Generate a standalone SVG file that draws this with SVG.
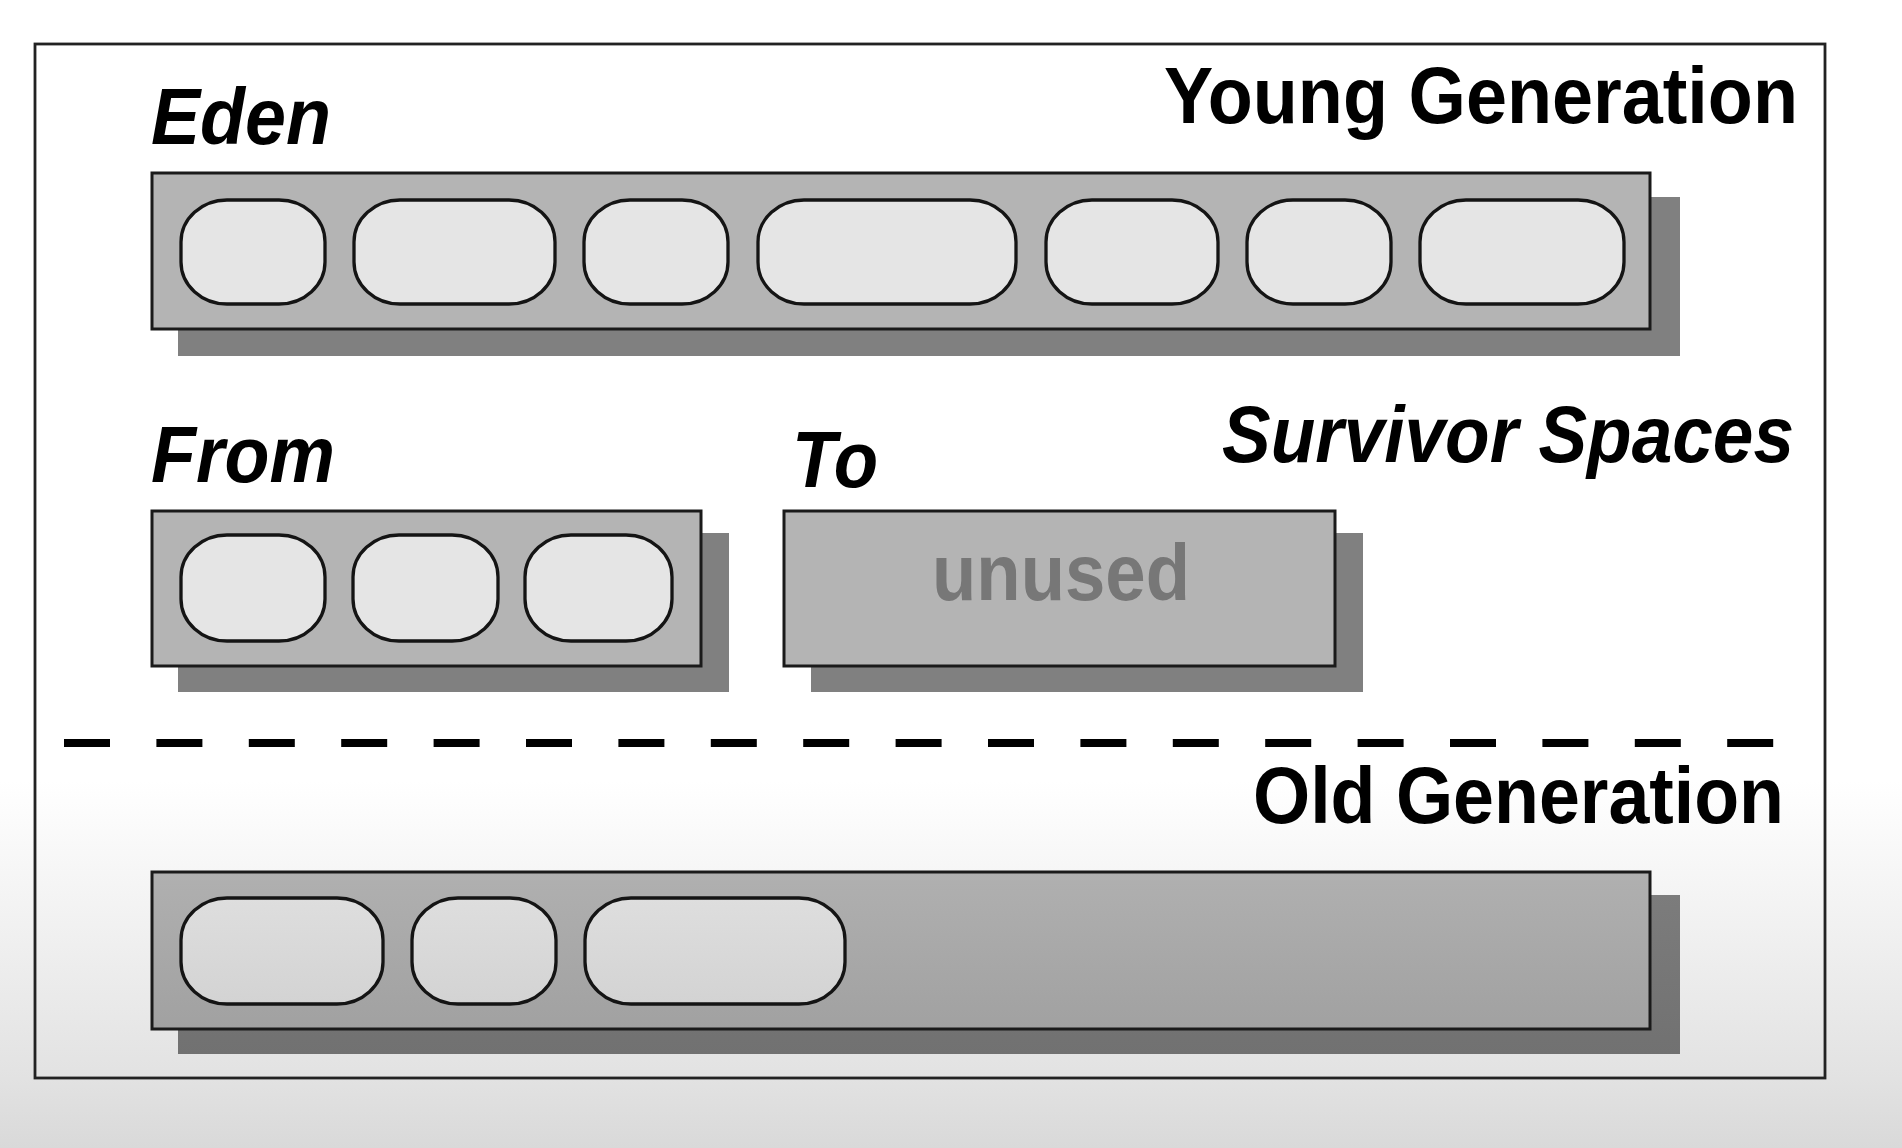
<svg xmlns="http://www.w3.org/2000/svg" width="1902" height="1148" viewBox="0 0 1902 1148">
<defs>
<linearGradient id="bg" x1="0" y1="0" x2="0" y2="1148" gradientUnits="userSpaceOnUse">
<stop offset="0" stop-color="#ffffff"/>
<stop offset="0.68" stop-color="#ffffff"/>
<stop offset="0.94" stop-color="#e2e2e2"/>
<stop offset="1" stop-color="#d9d9d9"/>
</linearGradient>
<linearGradient id="oldFill" x1="0" y1="0" x2="0" y2="1">
<stop offset="0" stop-color="#b0b0b0"/>
<stop offset="1" stop-color="#a1a1a1"/>
</linearGradient>
<linearGradient id="oldShadow" x1="0" y1="0" x2="0" y2="1">
<stop offset="0" stop-color="#7c7c7c"/>
<stop offset="1" stop-color="#717171"/>
</linearGradient>
<linearGradient id="oldCell" x1="0" y1="0" x2="0" y2="1">
<stop offset="0" stop-color="#dedede"/>
<stop offset="1" stop-color="#d3d3d3"/>
</linearGradient>
</defs>
<style>
.frame{fill:none;stroke:#222;stroke-width:2.8}
.shadow{fill:#808080}
.box{fill:#b4b4b4;stroke:#1a1a1a;stroke-width:3}
.cell{fill:#e5e5e5;stroke:#141414;stroke-width:3.3}
.lbl{font-family:"Liberation Sans",Arial,sans-serif;font-weight:bold;font-size:79px;fill:#000}
.it{font-style:italic}
.unused{font-family:"Liberation Sans",Arial,sans-serif;font-weight:bold;font-size:79px;fill:#777}
.dash{stroke:#000;stroke-width:8;stroke-dasharray:46 46.4;fill:none}
</style>
<rect x="0" y="0" width="1902" height="1148" fill="url(#bg)"/>
<g id="frame">
<rect class="frame" x="35" y="44" width="1790" height="1034"/>
</g>
<g id="labels">
<text class="lbl" x="1164" y="123" textLength="634" lengthAdjust="spacingAndGlyphs">Young Generation</text>
<text class="lbl it" x="151" y="144" textLength="180" lengthAdjust="spacingAndGlyphs">Eden</text>
<text class="lbl it" x="151" y="482" textLength="184" lengthAdjust="spacingAndGlyphs">From</text>
<text class="lbl it" x="792" y="487" textLength="86" lengthAdjust="spacingAndGlyphs">To</text>
<text class="lbl it" x="1222" y="462" textLength="572" lengthAdjust="spacingAndGlyphs">Survivor Spaces</text>
<text class="lbl" x="1253" y="823" textLength="531" lengthAdjust="spacingAndGlyphs">Old Generation</text>
</g>
<g id="eden">
<rect class="shadow" x="178" y="197" width="1502" height="159"/>
<rect class="box" x="152" y="173" width="1498" height="156"/>
<rect class="cell" x="181" y="200" width="144" height="104" rx="46" ry="42"/>
<rect class="cell" x="354" y="200" width="201" height="104" rx="46" ry="42"/>
<rect class="cell" x="584" y="200" width="144" height="104" rx="46" ry="42"/>
<rect class="cell" x="758" y="200" width="258" height="104" rx="46" ry="42"/>
<rect class="cell" x="1046" y="200" width="172" height="104" rx="46" ry="42"/>
<rect class="cell" x="1247" y="200" width="144" height="104" rx="46" ry="42"/>
<rect class="cell" x="1420" y="200" width="204" height="104" rx="46" ry="42"/>
</g>
<g id="from">
<rect class="shadow" x="178" y="533" width="551" height="159"/>
<rect class="box" x="152" y="511" width="549" height="155"/>
<rect class="cell" x="181" y="535" width="144" height="106" rx="46" ry="42"/>
<rect class="cell" x="353" y="535" width="145" height="106" rx="46" ry="42"/>
<rect class="cell" x="525" y="535" width="147" height="106" rx="46" ry="42"/>
</g>
<g id="to">
<rect class="shadow" x="811" y="533" width="552" height="159"/>
<rect class="box" x="784" y="511" width="551" height="155"/>
<text class="unused" x="1061" y="600" text-anchor="middle" textLength="258" lengthAdjust="spacingAndGlyphs">unused</text>
</g>
<g id="divider">
<line class="dash" x1="64" y1="743" x2="1774" y2="743"/>
</g>
<g id="old">
<rect x="178" y="895" width="1502" height="159" fill="url(#oldShadow)"/>
<rect class="box" x="152" y="872" width="1498" height="157" style="fill:url(#oldFill)"/>
<rect class="cell" x="181" y="898" width="202" height="106" rx="46" ry="42" style="fill:url(#oldCell)"/>
<rect class="cell" x="412" y="898" width="144" height="106" rx="46" ry="42" style="fill:url(#oldCell)"/>
<rect class="cell" x="585" y="898" width="260" height="106" rx="46" ry="42" style="fill:url(#oldCell)"/>
</g>
</svg>
